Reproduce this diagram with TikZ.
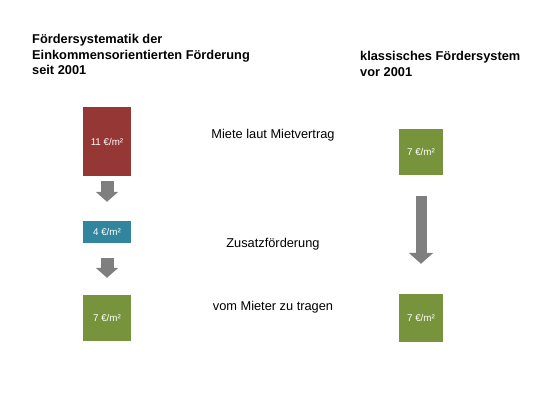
\documentclass[tikz,border=0pt]{standalone}
\usepackage{fontspec}
\setmainfont{Liberation Sans}
\usetikzlibrary{arrows.meta}
\definecolor{boxred}{HTML}{953735}
\definecolor{boxteal}{HTML}{31859C}
\definecolor{boxgreen}{HTML}{77933C}
\definecolor{arrgray}{HTML}{7F7F7F}
\tikzset{
  valbox/.style={draw=none, inner sep=0pt, text=white, font=\fontsize{9.8}{11}\selectfont},
  title/.style={inner sep=0pt, anchor=base west, font=\fontsize{12.8}{15.5}\selectfont\bfseries},
  midtext/.style={inner sep=0pt, anchor=base, font=\fontsize{12.8}{15.5}\selectfont},
  blockarrow/.style={arrgray, line cap=butt}
}
\begin{document}
\begin{tikzpicture}[x=1pt, y=-1pt]
\useasboundingbox (0,0) rectangle (545,409);
% titles
\node[title] (t1) at (32,44) {Fördersystematik der};
\node[title] (t2) at (32,59.5) {Einkommensorientierten Förderung};
\node[title] (t3) at (32,75) {seit 2001};
\node[title] (r1) at (360,61) {klassisches Fördersystem};
\node[title] (r2) at (360,76.5) {vor 2001};
% middle texts
\node[midtext] (m1) at (273,138) {Miete laut Mietvertrag};
\node[midtext] (m2) at (273,247) {Zusatzförderung};
\node[midtext] (m3) at (273,310) {vom Mieter zu tragen};
% left boxes
\node[valbox, fill=boxred, minimum width=48pt, minimum height=69pt] (red) at (107,141.5) {11 €/m²};
\node[valbox, fill=boxteal, minimum width=48pt, minimum height=22pt] (teal) at (107,232) {4 €/m²};
\node[valbox, fill=boxgreen, minimum width=48pt, minimum height=46pt] (lgreen) at (107,318) {7 €/m²};
% right boxes
\node[valbox, fill=boxgreen, minimum width=44pt, minimum height=46pt] (rg1) at (421,152) {7 €/m²};
\node[valbox, fill=boxgreen, minimum width=44pt, minimum height=48pt] (rg2) at (421,318) {7 €/m²};
% arrows
\draw[blockarrow, line width=13pt, -{Triangle[width=22pt, length=10pt]}]
  ([yshift=-5pt]red.south) -- ([yshift=19pt]teal.north);
\draw[blockarrow, line width=13pt, -{Triangle[width=22pt, length=10pt]}]
  ([yshift=-15pt]teal.south) -- ([yshift=17pt]lgreen.north);
\draw[blockarrow, line width=11pt, -{Triangle[width=24pt, length=11pt]}]
  ([yshift=-21pt]rg1.south) -- ([yshift=30pt]rg2.north);
\end{tikzpicture}
\end{document}
